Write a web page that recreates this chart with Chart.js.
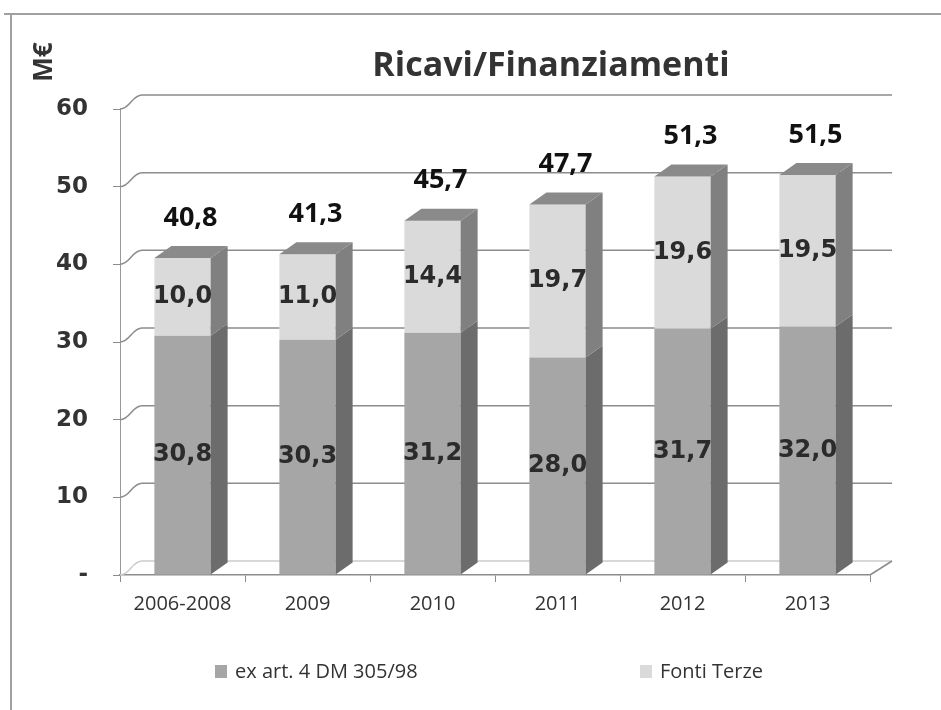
<!DOCTYPE html>
<html>
<head>
<meta charset="utf-8">
<script src="https://cdn.jsdelivr.net/npm/chart.js@4.4.1/dist/chart.umd.min.js"></script>
<style>
  body { margin: 0; background: #fff; }
</style>
</head>
<body>
<canvas id="ricaviChart" width="941" height="710"></canvas>
<script>
// data
var categories = ['2006-2008', '2009', '2010', '2011', '2012', '2013'];
var exArt4 = [30.8, 30.3, 31.2, 28.0, 31.7, 32.0];
var fontiTerze = [10.0, 11.0, 14.4, 19.7, 19.6, 19.5];
var totals = [40.8, 41.3, 45.7, 47.7, 51.3, 51.5];
var yTicks = [0, 10, 20, 30, 40, 50, 60];

// fake 3d depth
var DX = 22, DY = 14;   // walls
var BX = 17, BY = 12;   // bars

function fmt(v) {
  return v.toFixed(1).replace('.', ',');
}

// back walls + gridlines, drawn behind the bars
var walls = {
  id: 'walls',
  beforeDatasetsDraw: function(chart) {
    var ctx = chart.ctx, y = chart.scales.y, a = chart.chartArea;
    ctx.save();
    ctx.lineWidth = 1.5;
    yTicks.forEach(function(t) {
      var py = y.getPixelForValue(t);
      ctx.strokeStyle = t === 0 ? '#cccccc' : '#8c8c8c';
      ctx.beginPath();
      ctx.moveTo(a.left, py);
      ctx.bezierCurveTo(a.left + 10, py, a.left + 12, py - DY, a.left + DX, py - DY);
      ctx.lineTo(a.right + DX, py - DY);
      ctx.stroke();
    });
    ctx.strokeStyle = '#8c8c8c';
    ctx.beginPath();
    ctx.moveTo(a.right, a.bottom);
    ctx.lineTo(a.right + DX, a.bottom - DY);
    ctx.stroke();
    ctx.restore();
  }
};

// side + top faces of the bars and the value labels
var faces = {
  id: 'faces',
  afterDatasetsDraw: function(chart) {
    var ctx = chart.ctx, y = chart.scales.y;
    var sideCols = ['#6c6c6c', '#808080'];
    ctx.save();
    chart.data.datasets.forEach(function(ds, di) {
      chart.getDatasetMeta(di).data.forEach(function(bar) {
        var xr = bar.x + bar.width / 2;
        ctx.fillStyle = sideCols[di];
        ctx.beginPath();
        ctx.moveTo(xr, bar.y);
        ctx.lineTo(xr + BX, bar.y - BY);
        ctx.lineTo(xr + BX, bar.base - BY);
        ctx.lineTo(xr, bar.base);
        ctx.closePath();
        ctx.fill();
      });
    });
    // top face on the upper segment
    chart.getDatasetMeta(1).data.forEach(function(bar) {
      var xl = bar.x - bar.width / 2, xr = bar.x + bar.width / 2;
      ctx.fillStyle = '#8a8a8a';
      ctx.beginPath();
      ctx.moveTo(xl, bar.y);
      ctx.lineTo(xl + BX, bar.y - BY);
      ctx.lineTo(xr + BX, bar.y - BY);
      ctx.lineTo(xr, bar.y);
      ctx.closePath();
      ctx.fill();
    });

    // segment labels
    ctx.fillStyle = '#2b2b2b';
    ctx.textAlign = 'center';
    ctx.textBaseline = 'middle';
    ctx.font = 'bold 24px "DejaVu Sans"';
    chart.data.datasets.forEach(function(ds, di) {
      chart.getDatasetMeta(di).data.forEach(function(bar, i) {
        ctx.fillText(fmt(ds.data[i]), bar.x, (bar.y + bar.base) / 2);
      });
    });

    // totals on top
    ctx.fillStyle = '#111';
    ctx.font = 'bold 27px "Open Sans"';
    chart.getDatasetMeta(1).data.forEach(function(bar, i) {
      ctx.fillText(fmt(totals[i]), bar.x + 8, y.getPixelForValue(totals[i]) - 40);
    });
    ctx.restore();
  }
};

// title, unit, legend and the frame
var extras = {
  id: 'extras',
  afterDraw: function(chart) {
    var ctx = chart.ctx;
    ctx.save();
    ctx.strokeStyle = '#a0a0a0';
    ctx.lineWidth = 2;
    ctx.beginPath();
    ctx.moveTo(4, 14);
    ctx.lineTo(941, 14);
    ctx.moveTo(11, 14);
    ctx.lineTo(11, 710);
    ctx.stroke();

    ctx.fillStyle = '#333';
    ctx.textAlign = 'center';
    ctx.textBaseline = 'middle';
    ctx.font = 'bold 34px "Open Sans"';
    ctx.fillText('Ricavi/Finanziamenti', 551, 66);

    ctx.save();
    ctx.translate(45, 62);
    ctx.rotate(-Math.PI / 2);
    ctx.font = 'bold 26px "Open Sans"';
    ctx.fillText('M€', 0, 0);
    ctx.restore();

    // legend
    var legX = [215, 640];
    ctx.font = '20px "Open Sans"';
    ctx.textAlign = 'left';
    chart.data.datasets.forEach(function(ds, di) {
      ctx.fillStyle = ds.backgroundColor;
      ctx.fillRect(legX[di], 665, 12, 13);
      ctx.fillStyle = '#333';
      ctx.fillText(ds.label, legX[di] + 20, 672);
    });
    ctx.restore();
  }
};

var ricaviChart = document.getElementById('ricaviChart');
var myChart = new Chart(ricaviChart, {
  type: 'bar',
  data: {
    labels: categories,
    datasets: [{
      label: 'ex art. 4 DM 305/98',
      data: exArt4,
      backgroundColor: '#a6a6a6',
      borderWidth: 0,
      barPercentage: 0.5,
      categoryPercentage: 0.9
    }, {
      label: 'Fonti Terze',
      data: fontiTerze,
      backgroundColor: '#dadada',
      borderWidth: 0,
      barPercentage: 0.5,
      categoryPercentage: 0.9
    }]
  },
  options: {
    responsive: false,
    animation: false,
    layout: { padding: { top: 109, right: 71, left: 0, bottom: 0 } },
    plugins: {
      legend: { display: false },
      tooltip: { enabled: false },
      title: { display: false }
    },
    scales: {
      x: {
        stacked: true,
        grid: { offset: true, drawOnChartArea: false, tickLength: 7, color: '#8c8c8c' },
        border: { color: '#8c8c8c', width: 1.5 },
        ticks: { font: { family: 'Open Sans', size: 20 }, color: '#333', padding: 10 },
        afterFit: function(s) { s.height = 135; }
      },
      y: {
        stacked: true,
        min: 0,
        max: 60,
        ticks: {
          stepSize: 10,
          callback: function(v) { return v === 0 ? '-' : v; },
          font: { family: 'DejaVu Sans', weight: 'bold', size: 23 },
          color: '#333',
          padding: 25
        },
        grid: { drawOnChartArea: false, tickLength: 7, color: '#8c8c8c' },
        border: { color: '#999' },
        afterFit: function(s) { s.width = 120; }
      }
    }
  },
  plugins: [walls, faces, extras]
});
</script>
</body>
</html>
